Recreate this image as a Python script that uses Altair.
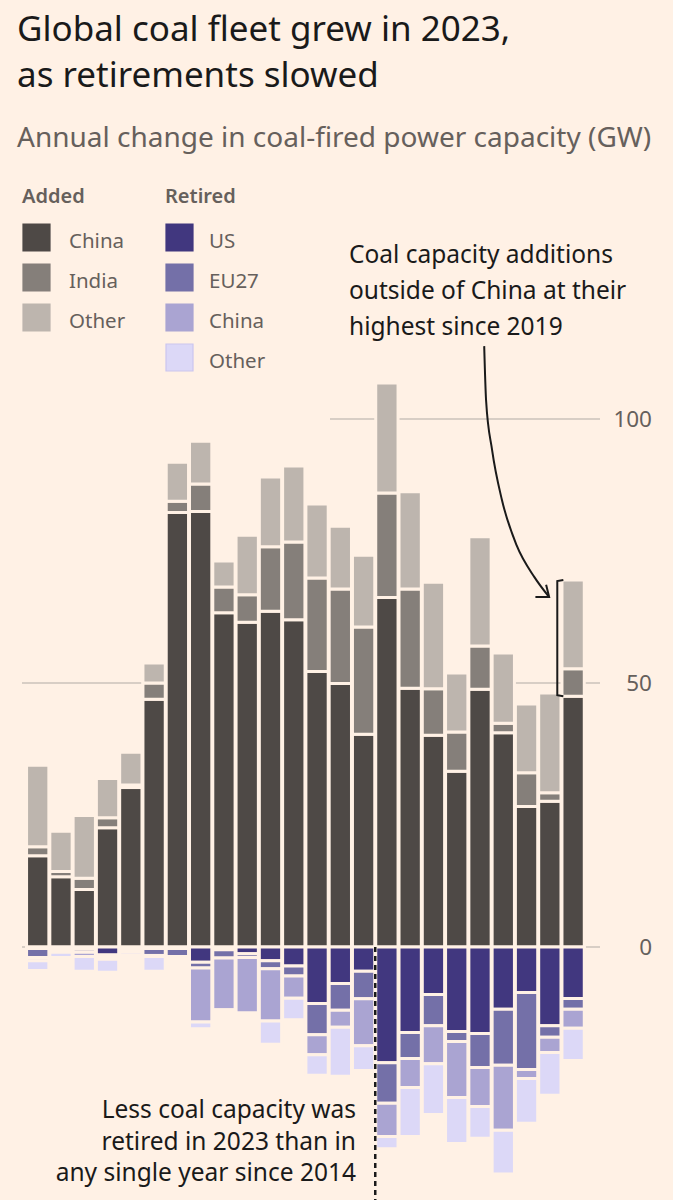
import altair as alt
import pandas as pd

# ---------------- data (GW) ----------------
years = list(range(2000, 2024))

added_cats = ["China", "India", "Other"]
added_china = [17.3, 13.3, 10.9, 22.6, 30.2, 46.9, 82.3, 82.5, 63.3, 61.5, 63.6, 62.0,
               52.2, 49.9, 40.3, 66.2, 49.0, 40.1, 33.3, 48.8, 40.6, 26.6, 27.6, 47.5]
added_india = [1.7, 1.0, 2.1, 1.9, 0.5, 3.1, 2.1, 5.2, 4.9, 5.2, 12.2, 14.7,
               17.7, 17.9, 20.3, 19.8, 18.8, 8.8, 7.4, 8.2, 1.8, 6.4, 1.6, 5.2]
added_other = [15.4, 7.6, 11.9, 7.4, 6.2, 3.8, 7.4, 8.1, 4.9, 11.3, 13.2, 14.4,
               14.0, 11.9, 13.6, 20.8, 18.4, 20.2, 11.2, 20.7, 13.3, 13.0, 18.9, 16.8]

retired_cats = ["US", "EU27", "China", "Other"]
retired_us = [0.3, 0.2, 0.4, 1.5, 0.2, 0.3, 0.3, 2.9, 0.5, 1.3, 2.6, 3.6,
              10.7, 6.9, 4.6, 21.9, 16.2, 9.0, 16.0, 16.4, 11.8, 8.6, 14.9, 9.75]
retired_eu27 = [1.7, 0.3, 0.6, 0.4, 0.3, 1.3, 1.5, 1.1, 1.6, 0.7, 1.5, 1.9,
                5.9, 5.1, 5.2, 7.7, 4.9, 5.9, 1.9, 6.4, 10.6, 14.6, 2.2, 2.05]
retired_china = [0.6, 0.5, 0.8, 0.4, 0.4, 0.2, 0.2, 10.2, 9.8, 10.5, 9.9, 4.2,
                 3.8, 3.2, 8.9, 6.3, 5.5, 7.2, 10.6, 7.4, 12.3, 1.7, 2.9, 3.6]
retired_other = [1.85, 1.0, 2.8, 2.5, 0.6, 2.8, 0.2, 1.3, 0.5, 0.5, 4.4, 4.1,
                 3.9, 9.3, 4.7, 2.3, 9.3, 9.6, 8.7, 6.0, 8.3, 8.5, 8.1, 6.1]

tick_values = [0, 50, 100]

title_lines = ["Global coal fleet grew in 2023,", "as retirements slowed"]
subtitle = "Annual change in coal-fired power capacity (GW)"
note_top = ["Coal capacity additions", "outside of China at their", "highest since 2019"]
note_bottom = ["Less coal capacity was", "retired in 2023 than in", "any single year since 2014"]

# annotation arrow path (year, GW)
arrow_x = [2019.18, 2019.26, 2019.52, 2019.94, 2020.57, 2021.33, 2021.93]
arrow_y = [113.8, 103.6, 94.1, 84.7, 76.1, 70.1, 66.5]
head_x = [2021.38, 2021.97, 2021.84]
head_y = [66.3, 66.3, 68.6]

# ---------------- styling ----------------
BG = "#fff1e5"
FONT = "Noto Sans"
GREY = "#66605c"
INK = "#1a1a1a"
added_colors = ["#4e4946", "#857f7a", "#bdb5ae"]
retired_colors = ["#41377f", "#7470a8", "#aaa4d2", "#dcd8f7"]

W, H = 673, 1200
STEP = 23.63          # px per year
X0PX = 33.2           # px of year 2000 centre
ZERO_PX = 947.0
PX_PER_GW = 5.28
xmin = 2000 - X0PX / STEP
xmax = xmin + W / STEP
ymax = ZERO_PX / PX_PER_GW
ymin = -(H - ZERO_PX) / PX_PER_GW

xs = alt.Scale(domain=[xmin, xmax], nice=False, zero=False)
ys = alt.Scale(domain=[ymin, ymax], nice=False, zero=False)


def X(f):
    return alt.X(f, type="quantitative", scale=xs, axis=None)


def Y(f, **kw):
    return alt.Y(f, type="quantitative", scale=ys, axis=None, **kw)


# ---------------- tables ----------------
rows = []
for i, y in enumerate(years):
    for k, (c, arr) in enumerate(zip(added_cats, [added_china, added_india, added_other])):
        rows.append({"year": y, "cat": c, "value": arr[i], "ord": k})
df_add = pd.DataFrame(rows)

rows = []
for i, y in enumerate(years):
    for k, (c, arr) in enumerate(zip(retired_cats, [retired_us, retired_eu27, retired_china, retired_other])):
        rows.append({"year": y, "cat": c, "value": -arr[i], "ord": k})
df_ret = pd.DataFrame(rows)

bars_add = alt.Chart(df_add).mark_bar(size=22.3, stroke=BG, strokeWidth=3).encode(
    x=X("year"),
    y=Y("value", stack="zero"),
    color=alt.Color("cat:N", scale=alt.Scale(domain=added_cats, range=added_colors), legend=None),
    order=alt.Order("ord:Q"),
)

bars_ret = alt.Chart(df_ret).mark_bar(size=22.3, stroke=BG, strokeWidth=3).encode(
    x=X("year"),
    y=Y("value", stack="zero"),
    fill=alt.Fill("cat:N", scale=alt.Scale(domain=retired_cats, range=retired_colors), legend=None),
    order=alt.Order("ord:Q"),
)

grid_low = alt.Chart(pd.DataFrame({"v": [v for v in tick_values if v < 100]})).mark_rule(
    color="#cbc2ba", strokeWidth=1.5).encode(
    y=Y("v"), x=alt.value(22), x2=alt.value(600))
grid_high = alt.Chart(pd.DataFrame({"v": [v for v in tick_values if v >= 100]})).mark_rule(
    color="#cbc2ba", strokeWidth=1.5).encode(
    y=Y("v"), x=alt.value(330), x2=alt.value(600))
tick_text = alt.Chart(pd.DataFrame({"v": tick_values})).mark_text(
    align="right", baseline="middle", font=FONT, fontSize=22.5, color=GREY, dy=1).encode(
    y=Y("v"), x=alt.value(652), text=alt.Text("v:Q"))


def text_block(lines, x, y0, step, size, color, align="left", weight="normal"):
    layers = []
    for i, line in enumerate(lines):
        layers.append(
            alt.Chart(pd.DataFrame({"t": [line]})).mark_text(
                align=align, baseline="alphabetic", font=FONT, fontSize=size, color=color,
                fontWeight=weight,
            ).encode(x=alt.value(x), y=alt.value(y0 + i * step), text="t:N")
        )
    return layers


texts = []
texts += text_block(title_lines, 17, 41, 46, 35, INK)
texts += text_block([subtitle], 17, 147, 0, 28, GREY)
texts += text_block(note_top, 349, 263, 36, 24.5, INK)
texts += text_block(note_bottom, 356, 1118, 31.5, 24.5, INK, align="right")


# ---------------- legend (two columns) ----------------
def legend_block(header, cats, colors, x0, label_dx):
    layers = text_block([header], x0 - 1, 203, 0, 20, GREY, weight=600)
    for i, (c, col) in enumerate(zip(cats, colors)):
        top = 224 + 40 * i
        layers.append(
            alt.Chart(pd.DataFrame({"t": [c]})).mark_rect(
                color=col, stroke="#cbc5ee" if i == 3 else col, strokeWidth=1.2).encode(
                x=alt.value(x0), x2=alt.value(x0 + 27), y=alt.value(top), y2=alt.value(top + 27))
        )
        layers += text_block([c], x0 + label_dx, top + 24, 0, 20.5, GREY)
    return layers


legend_layers = legend_block("Added", added_cats, added_colors, 23, 46)
legend_layers += legend_block("Retired", retired_cats, retired_colors, 166, 43)

# dashed divider between 2014 and 2015
dash_df = pd.DataFrame({"x": [2014.5], "y": [0.0], "yb": [ymin]})
dash = alt.Chart(dash_df).mark_rule(color=INK, strokeWidth=2.5, strokeDash=[5, 4]).encode(
    x=X("x"), y=Y("y"), y2=alt.Y2("yb"))

# bracket around 2023 non-China additions
lo = added_china[-1]
hi = added_china[-1] + added_india[-1] + added_other[-1]
bx, tx = 2023 - 0.68, 2023 - 0.42
br_df = pd.DataFrame({"x": [tx, bx, bx, tx], "y": [hi, hi - 0.2, lo + 0.2, lo], "o": [0, 1, 2, 3]})
bracket = alt.Chart(br_df).mark_line(color=INK, strokeWidth=2).encode(
    x=X("x"), y=Y("y"), order=alt.Order("o:Q"))

arr_df = pd.DataFrame({"x": arrow_x, "y": arrow_y})
arrow = alt.Chart(arr_df).mark_line(color=INK, strokeWidth=2, interpolate="monotone").encode(
    x=X("x"), y=Y("y"))
head_df = pd.DataFrame({"x": head_x, "y": head_y, "o": [0, 1, 2]})
head = alt.Chart(head_df).mark_line(color=INK, strokeWidth=2).encode(
    x=X("x"), y=Y("y"), order=alt.Order("o:Q"))

chart = alt.layer(
    grid_low, grid_high, bars_add, bars_ret, tick_text, *texts, *legend_layers,
    dash, bracket, arrow, head,
).properties(
    width=W, height=H, autosize=alt.AutoSizeParams(type="none"), padding=0,
    background=BG,
).configure_view(stroke=None)

chart.save("out.html", embed_options={"renderer": "svg", "actions": False})
